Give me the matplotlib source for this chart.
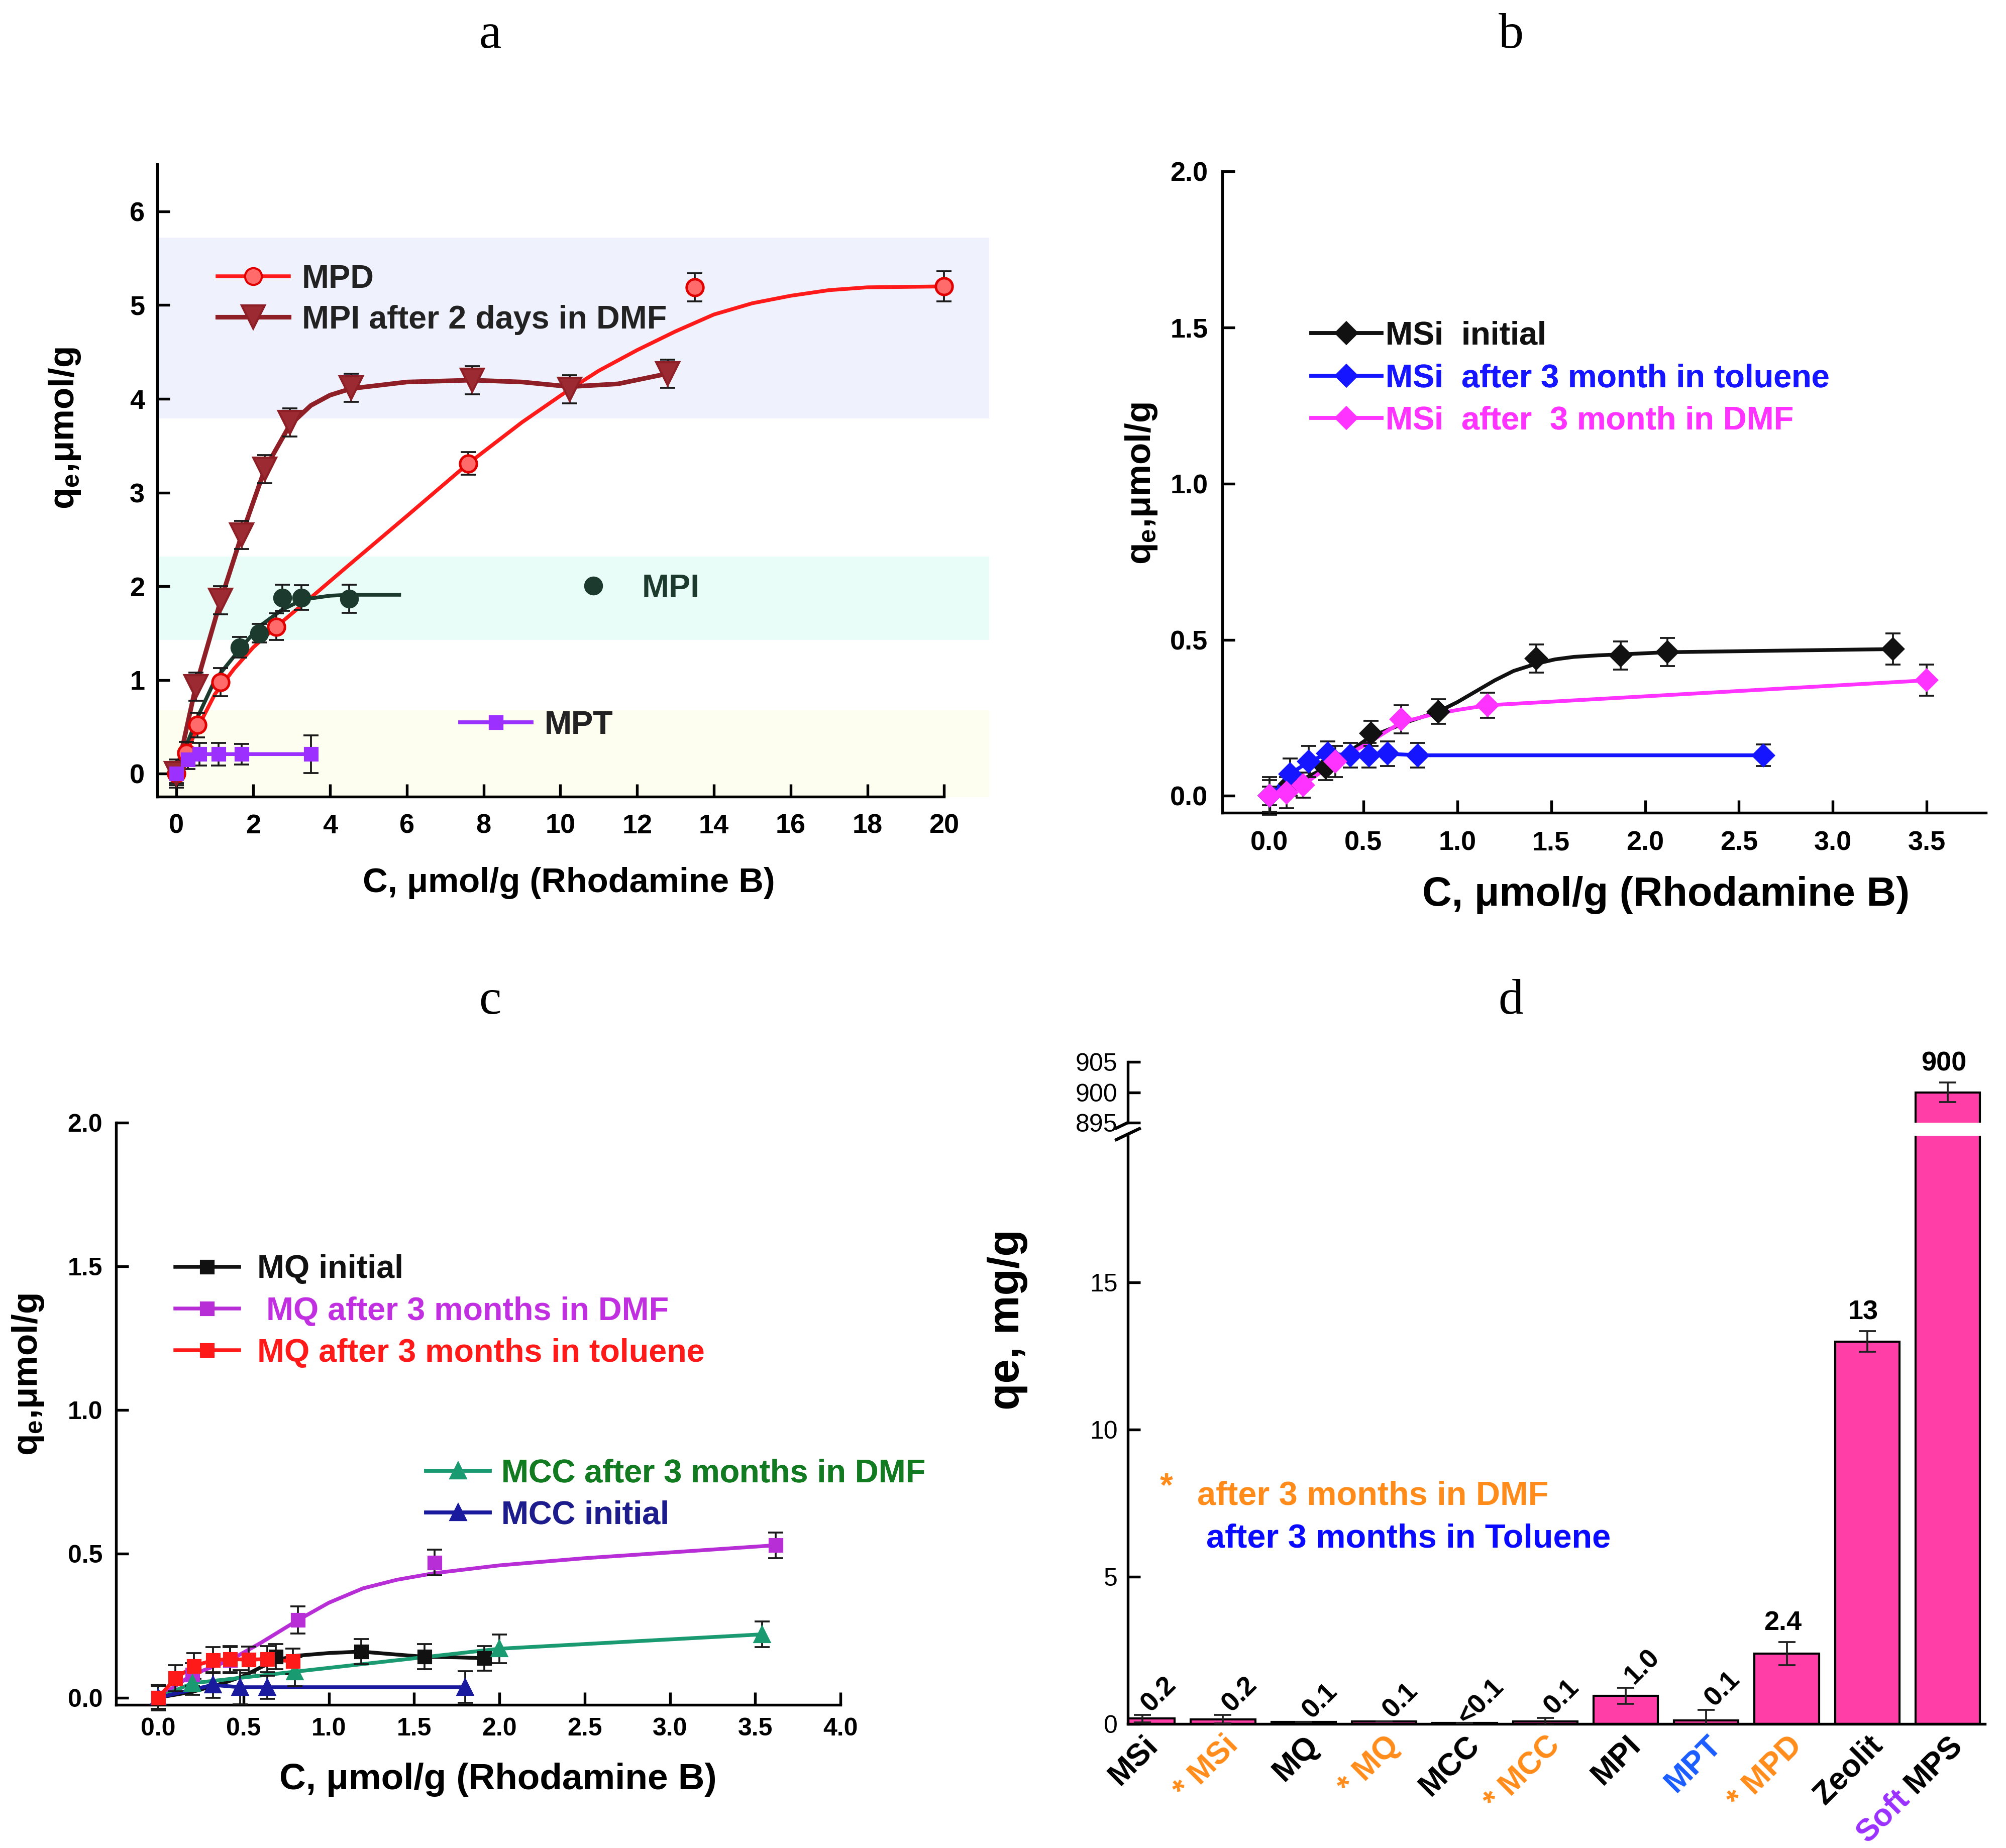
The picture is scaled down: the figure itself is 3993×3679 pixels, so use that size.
import matplotlib
matplotlib.use("Agg")
import matplotlib.pyplot as plt
from matplotlib.lines import Line2D
from matplotlib.patches import Rectangle
from matplotlib.textpath import TextPath
from matplotlib.font_manager import FontProperties
from matplotlib.ticker import FormatStrFormatter
from matplotlib.transforms import ScaledTranslation

plt.rcParams["font.family"] = ["Liberation Sans", "DejaVu Sans"]
plt.rcParams["font.weight"] = "bold"
plt.rcParams["axes.labelweight"] = "bold"
plt.rcParams["mathtext.fontset"] = "custom"
plt.rcParams["mathtext.rm"] = "Liberation Sans:bold"
plt.rcParams["mathtext.it"] = "Liberation Sans:bold"
plt.rcParams["mathtext.default"] = "rm"

# ---------------- panel a data ----------------
mpd_x = [0.0, 0.25, 0.55, 1.15, 2.6, 7.6, 13.5, 20.0]
mpd_y = [0.0, 0.22, 0.52, 0.98, 1.57, 3.31, 5.19, 5.2]
mpd_err = [0.12, 0.12, 0.13, 0.15, 0.14, 0.12, 0.15, 0.16]
mpd_fit_x = [0, 0.5, 1.0, 1.5, 2.0, 2.6, 3.5, 4.5, 6, 7.6, 9, 10.2, 11, 12, 13, 14, 15, 16, 17, 18, 20]
mpd_fit_y = [0, 0.45, 0.85, 1.12, 1.35, 1.57, 1.88, 2.23, 2.75, 3.31, 3.75, 4.09, 4.3, 4.52,
             4.72, 4.9, 5.02, 5.1, 5.16, 5.19, 5.2]

mpid_x = [0.0, 0.5, 1.15, 1.7, 2.3, 2.95, 4.55, 7.7, 10.25, 12.8]
mpid_y = [0.0, 0.93, 1.85, 2.55, 3.25, 3.75, 4.12, 4.2, 4.1, 4.27]
mpid_err = [0.15] * 10
mpid_fit_x = [0, 0.5, 1.15, 1.7, 2.3, 2.95, 3.5, 4.0, 4.55, 6, 7.7, 9, 10.25, 11.5, 12.8]
mpid_fit_y = [0, 0.93, 1.85, 2.55, 3.25, 3.72, 3.93, 4.04, 4.11, 4.18, 4.2, 4.18, 4.13, 4.16, 4.27]

mpi_x = [1.65, 2.15, 2.75, 3.25, 4.5]
mpi_y = [1.35, 1.5, 1.88, 1.88, 1.87]
mpi_err = [0.11, 0.1, 0.14, 0.13, 0.15]
mpi_fit_x = [0, 0.3, 0.6, 1.0, 1.65, 2.15, 2.75, 3.3, 4.0, 4.5, 5.2, 5.8]
mpi_fit_y = [0, 0.35, 0.65, 1.0, 1.33, 1.57, 1.75, 1.86, 1.9, 1.91, 1.91, 1.91]

mpt_x = [0.0, 0.3, 0.6, 1.1, 1.7, 3.5]
mpt_y = [0.0, 0.15, 0.21, 0.21, 0.21, 0.21]
mpt_err = [0.1, 0.1, 0.12, 0.12, 0.11, 0.2]

band_lo = [3.79, 1.43, -0.25]
band_hi = [5.72, 2.32, 0.68]
band_col = ["#eff1fc", "#e8fcf8", "#fefef0"]

# ---------------- panel b data ----------------
msi_x = [0.0, 0.11, 0.3, 0.54, 0.9, 1.42, 1.87, 2.12, 3.32]
msi_y = [0.0, 0.04, 0.09, 0.2, 0.27, 0.44, 0.45, 0.46, 0.47]
msi_err = [0.05, 0.04, 0.04, 0.04, 0.04, 0.045, 0.045, 0.045, 0.05]
msi_fit_x = [0.0, 0.3, 0.54, 0.75, 0.9, 1.0, 1.1, 1.2, 1.3, 1.42, 1.52, 1.62, 1.75, 1.87, 2.12, 3.32]
msi_fit_y = [0.0, 0.09, 0.19, 0.24, 0.27, 0.3, 0.335, 0.37, 0.4, 0.423, 0.437, 0.445, 0.45, 0.453, 0.46, 0.47]

tol_x = [0.0, 0.11, 0.21, 0.31, 0.43, 0.53, 0.63, 0.79, 2.63]
tol_y = [0.0, 0.07, 0.11, 0.135, 0.13, 0.13, 0.135, 0.13, 0.13]
tol_err = [0.03, 0.05, 0.05, 0.04, 0.04, 0.04, 0.04, 0.04, 0.035]

dmf_x = [0.0, 0.09, 0.18, 0.35, 0.7, 1.16, 3.5]
dmf_y = [0.0, 0.01, 0.035, 0.11, 0.245, 0.29, 0.37]
dmf_err = [0.06, 0.05, 0.04, 0.05, 0.045, 0.04, 0.05]
dmf_fit_x = [0, 0.09, 0.18, 0.35, 0.5, 0.7, 0.85, 1.0, 1.16, 3.5]
dmf_fit_y = [0, 0.01, 0.035, 0.11, 0.16, 0.235, 0.258, 0.275, 0.29, 0.37]

# ---------------- panel c data ----------------
mq_x = [0.69, 1.19, 1.56, 1.91]
mq_y = [0.142, 0.16, 0.142, 0.137]
mq_err = [0.044, 0.043, 0.044, 0.043]
mq_fit_x = [0.0, 0.2, 0.38, 0.5, 0.6, 0.69, 0.8, 1.0, 1.19, 1.35, 1.56, 1.75, 1.91]
mq_fit_y = [0, 0.02, 0.05, 0.075, 0.105, 0.13, 0.145, 0.155, 0.16, 0.152, 0.142, 0.14, 0.137]

mqd_x = [0.0, 0.2, 0.42, 0.82, 1.62, 3.62]
mqd_y = [0.0, 0.08, 0.13, 0.27, 0.47, 0.53]
mqd_err = [0.04, 0.04, 0.045, 0.047, 0.045, 0.045]
mqd_fit_x = [0, 0.2, 0.42, 0.6, 0.82, 1.0, 1.2, 1.4, 1.62, 2.0, 2.5, 3.0, 3.62]
mqd_fit_y = [0, 0.08, 0.13, 0.19, 0.27, 0.33, 0.38, 0.41, 0.433, 0.46, 0.485, 0.505, 0.53]

mqt_x = [0.0, 0.1, 0.21, 0.32, 0.42, 0.53, 0.64, 0.79]
mqt_y = [0.0, 0.067, 0.11, 0.13, 0.134, 0.132, 0.134, 0.126]
mqt_err = [0.045] * 8

mccd_x = [0.0, 0.2, 0.8, 2.0, 3.54]
mccd_y = [0.0, 0.05, 0.09, 0.17, 0.22]
mccd_err = [0.04, 0.04, 0.05, 0.05, 0.045]

mcc_x = [0.0, 0.32, 0.48, 0.64, 1.8]
mcc_y = [0.0, 0.044, 0.036, 0.036, 0.036]
mcc_err = [0.04, 0.045, 0.06, 0.04, 0.055]

# ---------------- panel d data ----------------
bar_names = ["MSi", "* MSi", "MQ", "* MQ", "MCC", "* MCC", "MPI", "MPT", "* MPD", "Zeolit", "MPS"]
bar_name_colors = ["black", "#ff8c1a", "black", "#ff8c1a", "black", "#ff8c1a",
                   "black", "#1a5cff", "#ff8c1a", "black", "black"]
bar_values = [0.18, 0.16, 0.07, 0.09, 0.04, 0.09, 0.96, 0.12, 2.39, 13.0, 900.0]
bar_errors = [0.12, 0.14, 0.0, 0.0, 0.0, 0.12, 0.27, 0.36, 0.4, 0.35, 1.6]
bar_text = ["0.2", "0.2", "0.1", "0.1", "<0.1", "0.1", "1.0", "0.1", "2.4", "13", "900"]

BAR = "#ff3fa7"
W, H = 1568, 1445


def rect(l, t, r, b):
    return [l / W, 1 - b / H, (r - l) / W, (b - t) / H]


def style(ax, fs, xpad, ypad):
    for s in ("top", "right"):
        ax.spines[s].set_visible(False)
    for s in ("left", "bottom"):
        ax.spines[s].set_linewidth(1.3)
    ax.tick_params(direction="in", length=6, width=1.3, labelsize=fs)
    ax.tick_params(axis="x", pad=xpad)
    ax.tick_params(axis="y", pad=ypad)


def add_legend(ax, handles, labels, colors, x, y, fs, hl, hp, ls=0.18):
    leg = ax.legend(handles, labels, loc="center left", bbox_to_anchor=(x, y),
                    frameon=False, fontsize=fs, handlelength=hl, handletextpad=hp,
                    labelspacing=ls, borderpad=0, borderaxespad=0)
    for t, c in zip(leg.get_texts(), colors):
        t.set_color(c)
    ax.add_artist(leg)


def err(ax, x, y, e):
    ax.errorbar(x, y, yerr=e, fmt="none", ecolor="#1a1a1a", elinewidth=0.9,
                capsize=3.5, capthick=0.9, zorder=4, clip_on=False)


fig = plt.figure(figsize=(3993 / 300, 3679 / 300), dpi=300)

# ======================= a =======================
ax = fig.add_axes(rect(123, 128.3, 738, 623))
for lo, hi, c in zip(band_lo, band_hi, band_col):
    ax.add_patch(Rectangle((-0.5, lo), 21.67, hi - lo, color=c, lw=0, zorder=0, clip_on=False))

RED, BROWN, DKG, PURP = "#ff1a1a", "#8e1f27", "#1c3a2e", "#9b30ff"
ax.plot(mpd_fit_x, mpd_fit_y, color=RED, lw=1.8, zorder=2)
ax.plot(mpid_fit_x, mpid_fit_y, color=BROWN, lw=2.2, zorder=2)
ax.plot(mpi_fit_x, mpi_fit_y, color=DKG, lw=1.8, zorder=2)
ax.plot(mpt_x, mpt_y, color=PURP, lw=1.8, zorder=2)
err(ax, mpd_x, mpd_y, mpd_err)
err(ax, mpid_x, mpid_y, mpid_err)
err(ax, mpi_x, mpi_y, mpi_err)
err(ax, mpt_x, mpt_y, mpt_err)
ax.plot(mpd_x, mpd_y, ls="none", marker="o", ms=8, mfc="#ff6a6a", mec="#e00000", mew=1.2, zorder=5, clip_on=False)
ax.plot(mpid_x, mpid_y, ls="none", marker="v", ms=11, mfc="#9b2a32", mec=BROWN, zorder=5)
ax.plot(mpi_x, mpi_y, ls="none", marker="o", ms=8, color=DKG, zorder=5)
ax.plot(mpt_x, mpt_y, ls="none", marker="s", ms=6, color=PURP, zorder=5)

ax.set_xlim(-0.5, 20)
ax.set_ylim(-0.245, 6.505)
ax.set_xticks(range(0, 21, 2))
ax.set_yticks(range(0, 7))
style(ax, 13, 8, 6)

h_mpd = Line2D([], [], color=RED, lw=1.8, marker="o", ms=8, mfc="#ff6a6a", mec="#e00000")
h_mpid = Line2D([], [], color=BROWN, lw=2.2, marker="v", ms=11, mfc="#9b2a32", mec=BROWN)
add_legend(ax, [h_mpd, h_mpid], ["MPD", "MPI after 2 days in DMF"], ["#222222", "#222222"],
           0.0764, 0.786, 15.5, 2.2, 0.4, 0.33)
add_legend(ax, [Line2D([], [], ls="none", marker="o", ms=8, color=DKG)], ["MPI"], ["#1c3a2e"],
           0.513, 0.329, 15.5, 2.0, 0.5)
add_legend(ax, [Line2D([], [], color=PURP, lw=1.8, marker="s", ms=6)], ["MPT"], ["#222222"],
           0.385, 0.113, 15.5, 2.2, 0.4)

ax.set_xlabel("C, \u03bcmol/g (Rhodamine B)", fontsize=16.5)
ax.xaxis.set_label_coords(0.523, -0.111)
ax.set_ylabel("q$_{e}$,\u03bcmol/g", fontsize=17)
ax.yaxis.set_label_coords(-0.095, 0.582)

# ======================= b =======================
ax = fig.add_axes(rect(955.6, 133.9, 1552.3, 635.5))
BLK, BLU, MAG = "#111111", "#1515ff", "#ff33ff"
ax.plot(msi_fit_x, msi_fit_y, color=BLK, lw=1.8, zorder=2)
ax.plot(tol_x, tol_y, color=BLU, lw=1.8, zorder=2)
ax.plot(dmf_fit_x, dmf_fit_y, color=MAG, lw=1.8, zorder=3)
err(ax, msi_x, msi_y, msi_err)
err(ax, tol_x, tol_y, tol_err)
err(ax, dmf_x, dmf_y, dmf_err)
ax.plot(msi_x, msi_y, ls="none", marker="D", ms=7, color=BLK, zorder=5)
ax.plot(tol_x, tol_y, ls="none", marker="D", ms=7, color=BLU, zorder=5)
ax.plot(dmf_x, dmf_y, ls="none", marker="D", ms=7, color=MAG, zorder=6)
ax.set_xlim(-0.25, 3.815)
ax.set_ylim(-0.054, 2.0)
ax.set_xticks([0, 0.5, 1.0, 1.5, 2.0, 2.5, 3.0, 3.5])
ax.set_yticks([0, 0.5, 1.0, 1.5, 2.0])
ax.xaxis.set_major_formatter(FormatStrFormatter("%.1f"))
ax.yaxis.set_major_formatter(FormatStrFormatter("%.1f"))
style(ax, 13, 8.5, 7)
hb = [Line2D([], [], color=c, lw=1.8, marker="D", ms=7) for c in (BLK, BLU, MAG)]
add_legend(ax, hb, ["MSi  initial", "MSi  after 3 month in toluene", "MSi  after  3 month in DMF"],
           [BLK, BLU, MAG], 0.1163, 0.677, 15.5, 2.17, 0.12, 0.38)
ax.set_xlabel("C, \u03bcmol/g (Rhodamine B)", fontsize=19.5)
ax.xaxis.set_label_coords(0.581, -0.099)
ax.set_ylabel("q$_{e}$,\u03bcmol/g", fontsize=17)
ax.yaxis.set_label_coords(-0.083, 0.513)

# ======================= c =======================
ax = fig.add_axes(rect(90.8, 877.9, 657, 1333))
PUR2, RED2, TEAL, NAVY = "#b82ed6", "#ff1a1a", "#1a9a70", "#1a1a9e"
ax.plot(mq_fit_x, mq_fit_y, color=BLK, lw=1.8, zorder=2)
ax.plot(mqd_fit_x, mqd_fit_y, color=PUR2, lw=1.8, zorder=2)
ax.plot(mccd_x, mccd_y, color=TEAL, lw=1.8, zorder=2)
ax.plot(mcc_x, mcc_y, color=NAVY, lw=1.8, zorder=2)
ax.plot(mqt_x, mqt_y, color=RED2, lw=1.8, zorder=3)
for xs, ys, es in ((mq_x, mq_y, mq_err), (mqd_x, mqd_y, mqd_err), (mqt_x, mqt_y, mqt_err),
                   (mccd_x, mccd_y, mccd_err), (mcc_x, mcc_y, mcc_err)):
    err(ax, xs, ys, es)
ax.plot(mq_x, mq_y, ls="none", marker="s", ms=6, color=BLK, zorder=5)
ax.plot(mqd_x, mqd_y, ls="none", marker="s", ms=6, color=PUR2, zorder=5)
ax.plot(mccd_x, mccd_y, ls="none", marker="^", ms=7, color=TEAL, zorder=5)
ax.plot(mcc_x, mcc_y, ls="none", marker="^", ms=7, color=NAVY, zorder=5)
ax.plot(mqt_x, mqt_y, ls="none", marker="s", ms=6, color=RED2, zorder=6)
ax.set_xlim(-0.247, 4.0)
ax.set_ylim(-0.025, 2.0)
ax.set_xticks([0, 0.5, 1.0, 1.5, 2.0, 2.5, 3.0, 3.5, 4.0])
ax.set_yticks([0, 0.5, 1.0, 1.5, 2.0])
ax.xaxis.set_major_formatter(FormatStrFormatter("%.1f"))
ax.yaxis.set_major_formatter(FormatStrFormatter("%.1f"))
style(ax, 12, 6, 6.5)
hc1 = [Line2D([], [], color=c, lw=1.8, marker="s", ms=6) for c in (BLK, PUR2, RED2)]
add_legend(ax, hc1, ["MQ initial", " MQ after 3 months in DMF", "MQ after 3 months in toluene"],
           [BLK, "#c030e0", RED2], 0.0816, 0.676, 15.5, 1.97, 0.55, 0.36)
hc2 = [Line2D([], [], color=c, lw=1.8, marker="^", ms=7) for c in (TEAL, NAVY)]
add_legend(ax, hc2, ["MCC after 3 months in DMF", "MCC initial"], ["#127a20", "#1c1c8c"],
           0.4278, 0.3615, 15.5, 1.97, 0.35, 0.36)
ax.set_xlabel("C, \u03bcmol/g (Rhodamine B)", fontsize=17.5)
ax.xaxis.set_label_coords(0.527, -0.099)
ax.set_ylabel("q$_{e}$,\u03bcmol/g", fontsize=17)
ax.yaxis.set_label_coords(-0.097, 0.567)

# ======================= d =======================
axd = fig.add_axes(rect(881.7, 887.9, 1551.5, 1348))
axu = fig.add_axes(rect(881.7, 830.3, 1551.5, 878.0))
idx = list(range(len(bar_values)))
for a in (axd, axu):
    a.bar(idx, bar_values, width=0.8, color=BAR, edgecolor="black", linewidth=1.0, zorder=2)
    a.set_xlim(-0.18, 10.46)
    for s in ("top", "right"):
        a.spines[s].set_visible(False)
    a.spines["left"].set_linewidth(1.3)
    a.tick_params(axis="y", direction="in", length=6, width=1.3, labelsize=12, pad=5)

axd.errorbar(idx[:10], bar_values[:10], yerr=bar_errors[:10], fmt="none", ecolor="#222222",
             elinewidth=0.9, capsize=4, capthick=0.9, zorder=3)
axu.errorbar(idx[10:], bar_values[10:], yerr=bar_errors[10:], fmt="none", ecolor="#222222",
             elinewidth=0.9, capsize=4, capthick=0.9, zorder=3)
axd.set_ylim(0, 20)
axd.set_yticks([0, 5, 10, 15])
axu.set_ylim(895, 905)
axu.set_yticks([895, 900, 905])
axd.spines["bottom"].set_linewidth(1.3)
axu.spines["bottom"].set_visible(False)
axu.set_xticks([])
for lab in axd.get_yticklabels() + axu.get_yticklabels():
    lab.set_fontweight("normal")

TFS = 15
axd.set_xticks(idx)
axd.set_xticklabels(bar_names)
axd.tick_params(axis="x", length=0, pad=8, labelsize=TFS)
shift = ScaledTranslation(5 / 72, 0, fig.dpi_scale_trans)
for lab, c in zip(axd.get_xticklabels(), bar_name_colors):
    lab.set_color(c)
    lab.set_rotation(45)
    lab.set_ha("right")
    lab.set_va("center")
    lab.set_rotation_mode("anchor")
    lab.set_transform(lab.get_transform() + shift)

fp = FontProperties(family="Liberation Sans", weight="bold", size=TFS)
w_mps = TextPath((0, 0), "MPS", prop=fp).get_extents().x1 + 0.3 * TFS
axd.annotate("Soft", xy=(10, 0), xycoords=("data", "axes fraction"),
             xytext=(5 - w_mps * 0.7071, -8 - w_mps * 0.7071), textcoords="offset points",
             rotation=45, rotation_mode="anchor", ha="right", va="center",
             color="#9b30ff", fontsize=TFS, fontweight="bold")

for i, (v, e, s) in enumerate(zip(bar_values, bar_errors, bar_text)):
    if i < 8:
        axd.annotate(s, xy=(i, v + e), xytext=(8, 10), textcoords="offset points",
                     rotation=45, rotation_mode="anchor", ha="center", va="center", fontsize=13)
    elif i < 10:
        axd.annotate(s, xy=(i, v + e), xytext=(-2, 3), textcoords="offset points",
                     ha="center", va="bottom", fontsize=13)
    else:
        axu.annotate(s, xy=(i, v + e), xytext=(-2, 3), textcoords="offset points",
                     ha="center", va="bottom", fontsize=13, annotation_clip=False)

# axis break marks
for y0 in (1.0126, 0.993):
    axd.plot([-0.0136, 0.0133], [y0, y0 + 0.0187], transform=axd.transAxes,
             color="black", lw=1.5, clip_on=False)

axd.text(0.045, 0.402, "*", transform=axd.transAxes, color="#ff8c1a", fontsize=16,
         ha="center", va="center")
axd.text(0.081, 0.387, "after 3 months in DMF", transform=axd.transAxes, color="#ff8c1a",
         fontsize=16, ha="left", va="center")
axd.text(0.0915, 0.315, "after 3 months in Toluene", transform=axd.transAxes, color="#0a0aff",
         fontsize=16, ha="left", va="center")
axd.set_ylabel("qe, mg/g", fontsize=21)
axd.yaxis.set_label_coords(-0.117, 0.687)

# panel letters
for s, x, y in (("a", 383, 28), ("b", 1181, 28), ("c", 383, 783), ("d", 1181, 783)):
    fig.text(x / W, 1 - y / H, s, family="Liberation Serif", fontweight="normal",
             fontsize=24, ha="center", va="center")

fig.savefig("out.png", dpi=300, facecolor="white")
